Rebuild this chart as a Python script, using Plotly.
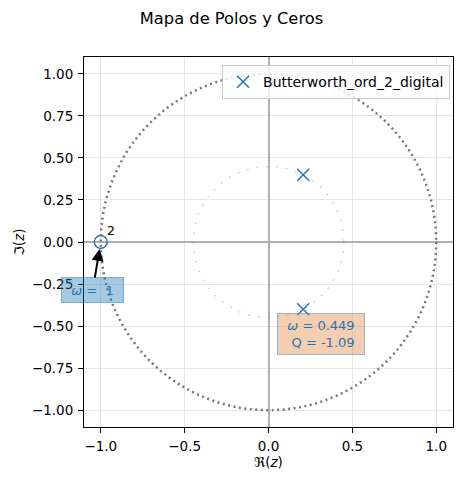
import plotly.graph_objects as go

# ---- data ----
pole_re = [0.207, 0.207]
pole_im = [0.400, -0.400]
zero_re = [-1.0]
zero_im = [0.0]
zero_mult = ["2"]
series_name = "Butterworth_ord_2_digital"
pole_omega = 0.449
pole_q = -1.09
zero_omega = 1
x_ticks = [-1.0, -0.5, 0.0, 0.5, 1.0]
y_ticks = [-1.0, -0.75, -0.5, -0.25, 0.0, 0.25, 0.5, 0.75, 1.0]

C0 = "#1f77b4"
FS = 13.5
fig = go.Figure()

# unit circle and pole-radius circle (reference shapes)
fig.add_shape(type="circle", xref="x", yref="y", x0=-1, y0=-1, x1=1, y1=1,
              line=dict(color="#777777", width=2.5, dash="2px,3.5px"), layer="above")
fig.add_shape(type="circle", xref="x", yref="y",
              x0=-pole_omega, y0=-pole_omega, x1=pole_omega, y1=pole_omega,
              line=dict(color="rgba(31,119,180,0.6)", width=1.1, dash="1.1px,8.7px"), layer="above")

fig.add_trace(go.Scatter(x=pole_re, y=pole_im, mode="markers", name=series_name,
                         marker=dict(symbol="x-thin-open", size=12, color=C0,
                                     line=dict(color=C0, width=1.5))))
fig.add_trace(go.Scatter(x=zero_re, y=zero_im, mode="markers", showlegend=False,
                         marker=dict(symbol="circle-open", size=13, color=C0,
                                     line=dict(color=C0, width=1.4))))

# multiplicity label
fig.add_annotation(x=zero_re[0] + 0.06, y=zero_im[0] + 0.07, text=zero_mult[0],
                   showarrow=False, font=dict(size=12.5, color="black"))

# zero annotation
fig.add_annotation(x=zero_re[0], y=zero_im[0], ax=-8, ay=48, axref="pixel", ayref="pixel",
                   text="<i>ω</i> =  %d" % zero_omega, font=dict(size=13, color=C0),
                   bgcolor="rgba(31,119,180,0.4)", bordercolor="rgba(31,119,180,0.5)",
                   borderwidth=1, borderpad=3, width=55, height=18,
                   showarrow=True, arrowhead=2, arrowsize=1.2, arrowwidth=2,
                   arrowcolor="black", standoff=7)

# pole annotation
fig.add_annotation(x=pole_re[1], y=pole_im[1], ax=18, ay=25,
                   text="<i>ω</i> = %.3f<br> Q = %.2f" % (pole_omega, pole_q),
                   font=dict(size=13, color=C0),
                   bgcolor="rgba(230,130,60,0.4)", bordercolor="rgba(31,119,180,0.45)",
                   borderwidth=1, borderpad=3, width=80, height=34,
                   showarrow=True, arrowhead=2, arrowsize=1.2, arrowwidth=2,
                   arrowcolor="#333333", standoff=7)

axis_common = dict(range=[-1.1, 1.1], showgrid=True, gridcolor="#e6e6e6", gridwidth=1,
                   zeroline=True, zerolinecolor="#b0b0b0", zerolinewidth=2,
                   showline=True, linecolor="black", linewidth=1, mirror=True,
                   ticks="outside", ticklen=5, tickcolor="black", ticklabelstandoff=2,
                   tickfont=dict(size=FS, color="black"))

fig.update_layout(
    width=463, height=482,
    margin=dict(l=84, r=10, t=57, b=55),
    paper_bgcolor="white", plot_bgcolor="white",
    font=dict(family="DejaVu Sans", size=FS, color="black"),
    title=dict(text="Mapa de Polos y Ceros", x=0.5, xanchor="center",
               y=1 - 18 / 482, yanchor="middle", font=dict(size=16.3)),
    xaxis=dict(axis_common, tickvals=x_ticks, ticktext=["−1.0", "−0.5", "0.0", "0.5", "1.0"],
               title=dict(text="ℜ(<i>z</i>)", standoff=4, font=dict(size=FS))),
    yaxis=dict(axis_common, tickvals=y_ticks,
               ticktext=["−1.00", "−0.75", "−0.50", "−0.25", "0.00", "0.25", "0.50", "0.75", "1.00"],
               title=dict(text="ℑ(<i>z</i>)", standoff=4, font=dict(size=FS))),
    legend=dict(x=0.992, y=0.978, xanchor="right", yanchor="top",
                bgcolor="rgba(255,255,255,0.8)", bordercolor="#cccccc", borderwidth=1,
                font=dict(size=14)),
    showlegend=True,
)

fig.write_html("out.html")
